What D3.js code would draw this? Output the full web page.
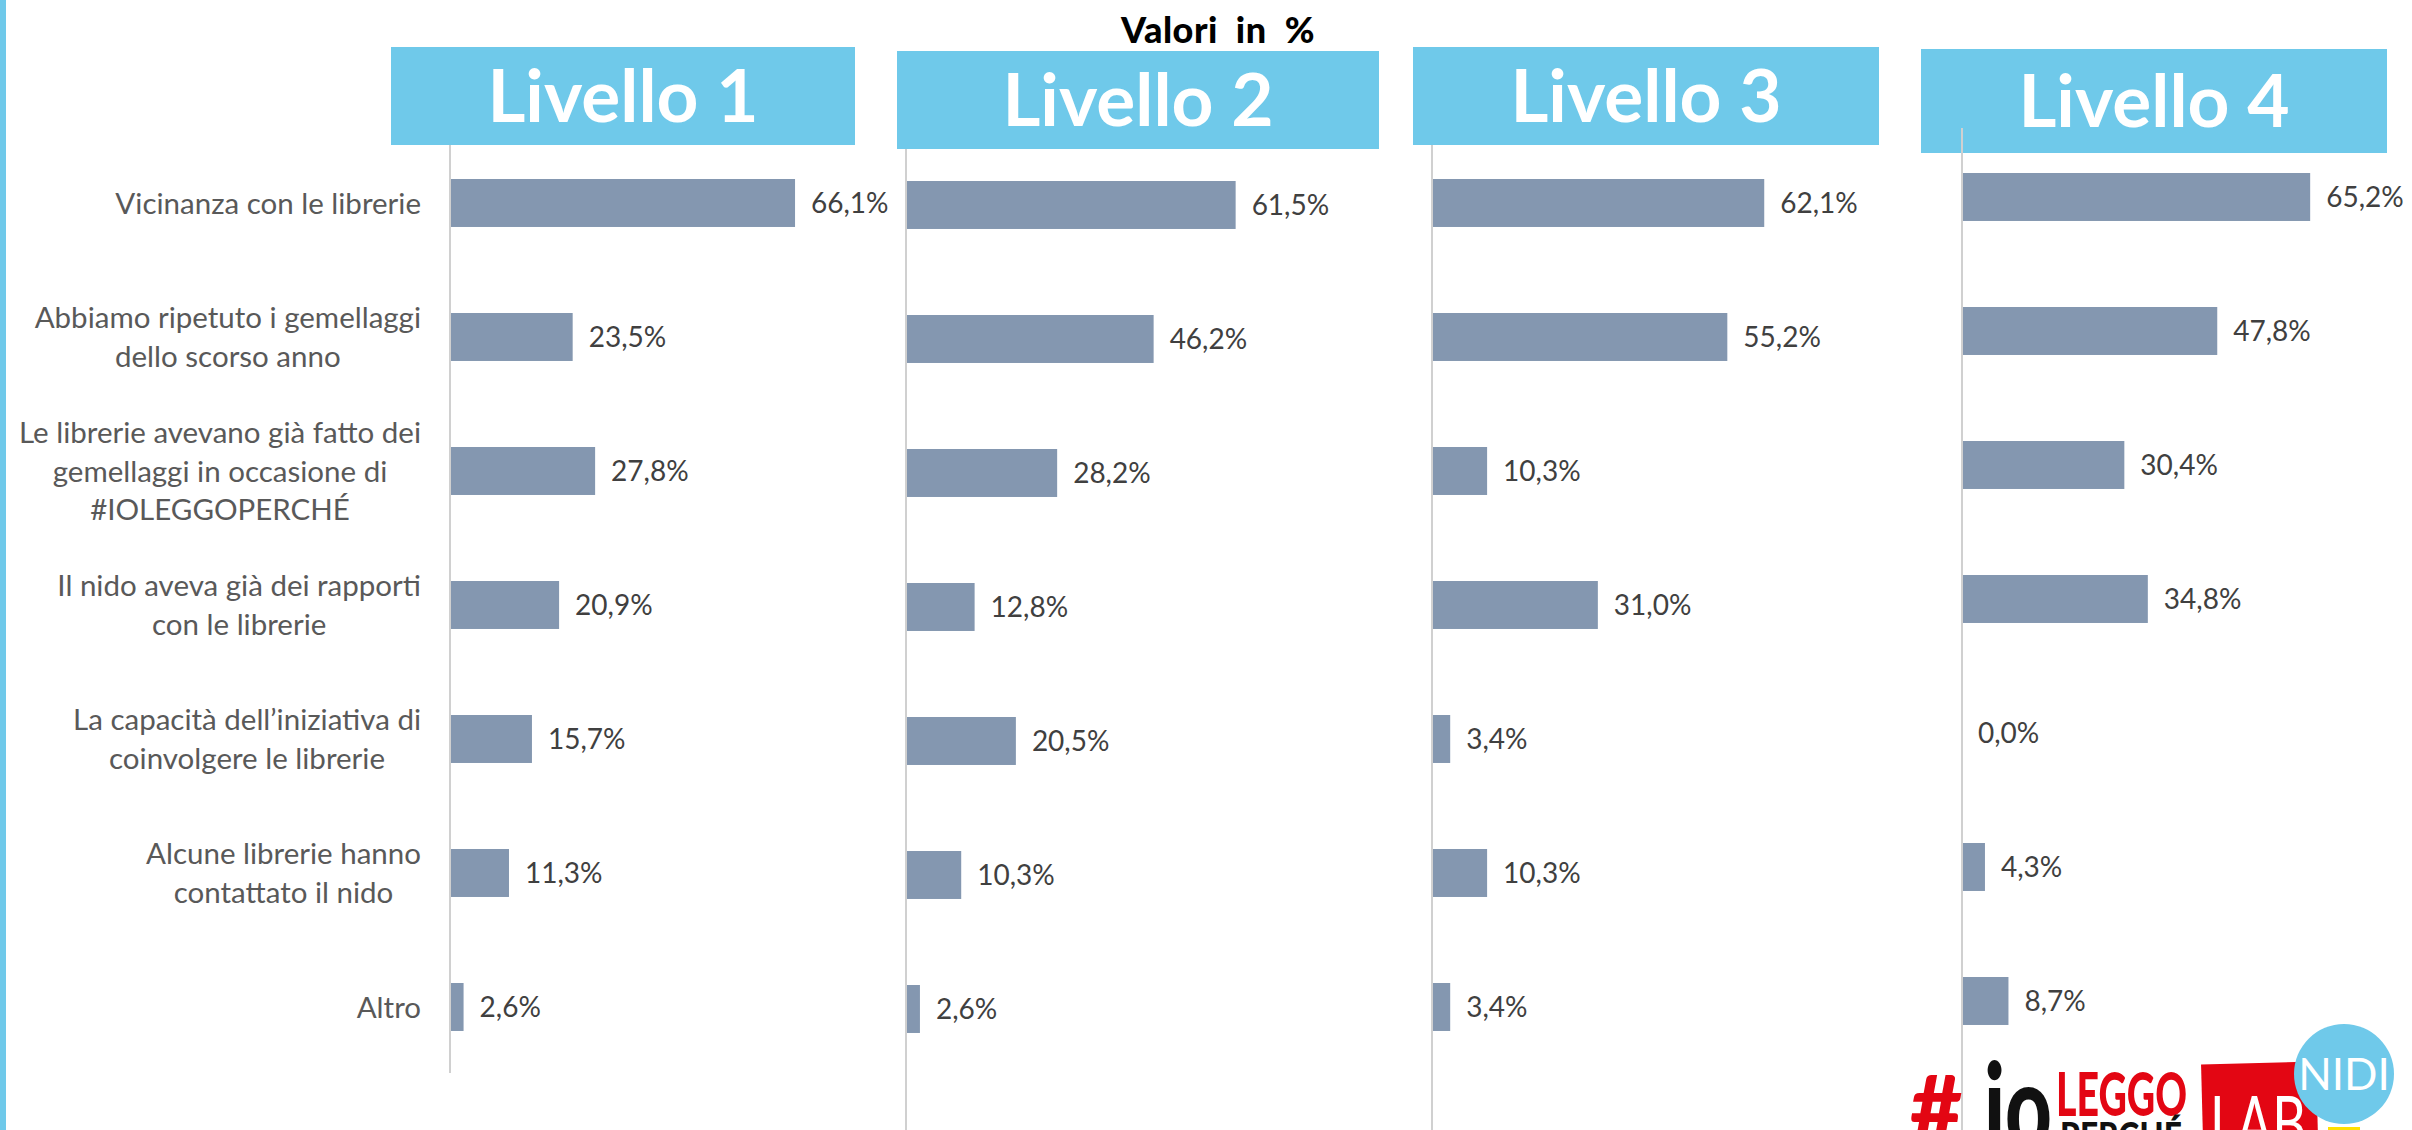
<html>

<head>
    <style>
        body { margin: 0; background: #fff; }
        text { font-family: Lato, "Open Sans", sans-serif; }
    </style>
</head>

<body>
    <div id="chart"></div>
    <script src="https://d3js.org/d3.v7.min.js"></script>
    <script>
        // categories (\n = line break as in the original labels)
        var categories = [
            "Vicinanza con le librerie",
            "Abbiamo ripetuto i gemellaggi\ndello scorso anno",
            "Le librerie avevano già fatto dei\ngemellaggi in occasione di\n#IOLEGGOPERCHÉ",
            "Il nido aveva già dei rapporti\ncon le librerie",
            "La capacità dell’iniziativa di\ncoinvolgere le librerie",
            "Alcune librerie hanno\ncontattato il nido",
            "Altro"
        ];

        var levelNames = ["Livello 1", "Livello 2", "Livello 3", "Livello 4"];

        var livello1 = [66.1, 23.5, 27.8, 20.9, 15.7, 11.3, 2.6];
        var livello2 = [61.5, 46.2, 28.2, 12.8, 20.5, 10.3, 2.6];
        var livello3 = [62.1, 55.2, 10.3, 31.0, 3.4, 10.3, 3.4];
        var livello4 = [65.2, 47.8, 30.4, 34.8, 0.0, 4.3, 8.7];

        var series = [livello1, livello2, livello3, livello4];

        var width = 2412,
            height = 1130,
            step = 134;

        // layout of the four small charts (they sit a little offset from each other)
        var panels = [
            { x0: 450, barTop: 179, w100: 522, box: [391, 47, 855, 145], line: [145, 1073], boxFirst: false },
            { x0: 906, barTop: 181, w100: 536, box: [897, 51, 1379, 149], line: [149, 1130], boxFirst: false },
            { x0: 1432, barTop: 179, w100: 535, box: [1413, 47, 1879, 145], line: [145, 1130], boxFirst: false },
            { x0: 1962, barTop: 173, w100: 534, box: [1921, 49, 2387, 153], line: [128, 1130], boxFirst: true }
        ];

        var blue = "#6FC9EA",
            barColor = "#8497B0",
            fmt = function (v) { return v.toFixed(1).replace(".", ",") + "%"; };

        var svg = d3.select("#chart")
            .append("svg")
            .attr("width", width)
            .attr("height", height);

        // left blue stripe
        svg.append("rect")
            .attr("x", 0).attr("y", 0)
            .attr("width", 6).attr("height", height)
            .attr("fill", blue);

        svg.append("text")
            .attr("x", 1218).attr("y", 43)
            .attr("text-anchor", "middle")
            .attr("font-size", 36)
            .attr("font-weight", 900)
            .attr("word-spacing", 9)
            .attr("letter-spacing", 0.5)
            .attr("fill", "#000")
            .text("Valori in %");

        function drawBox(p, i) {
            var b = p.box;
            var g = svg.append("g");
            g.append("rect")
                .attr("x", b[0]).attr("y", b[1])
                .attr("width", b[2] - b[0]).attr("height", b[3] - b[1])
                .attr("fill", blue);
            g.append("text")
                .attr("x", (b[0] + b[2]) / 2)
                .attr("y", (b[1] + b[3]) / 2)
                .attr("dy", "0.36em")
                .attr("text-anchor", "middle")
                .attr("font-size", 73)
                .attr("font-weight", 700)
                .attr("fill", "#fff")
                .text(levelNames[i]);
        }

        panels.forEach(function (p, i) {
            var data = series[i];

            var y = d3.scaleBand()
                .domain(categories)
                .range([p.barTop - step * 0.321, p.barTop - step * 0.321 + step * categories.length])
                .paddingInner(0.642)
                .paddingOuter(0.321);

            var x = d3.scaleLinear()
                .domain([0, 100])
                .range([p.x0, p.x0 + p.w100]);

            if (p.boxFirst) drawBox(p, i);

            var g = svg.append("g");

            g.append("line")
                .attr("x1", p.x0).attr("x2", p.x0)
                .attr("y1", p.line[0]).attr("y2", p.line[1])
                .attr("stroke", "#D0D0D0")
                .attr("stroke-width", 2);

            g.selectAll("rect.bar")
                .data(data)
                .enter().append("rect")
                .attr("class", "bar")
                .attr("x", x(0) + 1)
                .attr("y", function (d, k) { return y(categories[k]); })
                .attr("width", function (d) { return Math.max(0, x(d) - x(0) - 1); })
                .attr("height", y.bandwidth())
                .attr("fill", barColor);

            g.selectAll("text.val")
                .data(data)
                .enter().append("text")
                .attr("class", "val")
                .attr("x", function (d) { return x(d) + 16; })
                .attr("y", function (d, k) { return y(categories[k]) + y.bandwidth() / 2; })
                .attr("dy", "0.36em")
                .attr("font-size", 28)
                .attr("fill", "#404040")
                .text(fmt);

            if (!p.boxFirst) drawBox(p, i);

            // category labels only on the first chart
            if (i === 0) {
                var right = p.x0 - 29;
                categories.forEach(function (c) {
                    var lines = c.split("\n");
                    var cy = y(c) + y.bandwidth() / 2;
                    var lh = 38.5;
                    var t = svg.append("text")
                        .attr("font-size", 29.5)
                        .attr("fill", "#595959")
                        .attr("text-anchor", "middle");
                    lines.forEach(function (l, j) {
                        t.append("tspan")
                            .attr("y", cy + (j - (lines.length - 1) / 2) * lh)
                            .attr("dy", "0.36em")
                            .text(l);
                    });
                    var maxW = 0;
                    t.selectAll("tspan").each(function () {
                        maxW = Math.max(maxW, this.getComputedTextLength());
                    });
                    t.selectAll("tspan").attr("x", right - maxW / 2);
                });
            }
        });

        // logo in the bottom right corner
        var red = "#E30613";
        var logo = svg.append("g");
        logo.append("text")
            .attr("x", 1910).attr("y", 1140)
            .attr("font-size", 90).attr("font-weight", 900)
            .attr("fill", red)
            .text("#");
        logo.append("text")
            .attr("x", 1984).attr("y", 1150)
            .attr("font-size", 120).attr("font-weight", 900)
            .attr("fill", "#111")
            .attr("textLength", 68).attr("lengthAdjust", "spacingAndGlyphs")
            .text("io");
        logo.append("text")
            .attr("x", 2056).attr("y", 1116)
            .attr("font-size", 60).attr("font-weight", 900)
            .attr("fill", red)
            .attr("textLength", 131).attr("lengthAdjust", "spacingAndGlyphs")
            .text("LEGGO");
        logo.append("text")
            .attr("x", 2060).attr("y", 1150)
            .attr("font-size", 38).attr("font-weight", 900)
            .attr("fill", "#111")
            .attr("textLength", 122).attr("lengthAdjust", "spacingAndGlyphs")
            .text("PERCHÉ");
        logo.append("rect")
            .attr("x", 2202).attr("y", 1063)
            .attr("width", 115).attr("height", 80)
            .attr("transform", "rotate(-1.5 2260 1100)")
            .attr("fill", red);
        logo.append("text")
            .attr("x", 2210).attr("y", 1150)
            .attr("font-size", 76).attr("font-weight", 400)
            .attr("fill", "#fff")
            .attr("textLength", 96).attr("lengthAdjust", "spacingAndGlyphs")
            .text("LAB");
        logo.append("rect")
            .attr("x", 2328).attr("y", 1127)
            .attr("width", 32).attr("height", 6)
            .attr("fill", "#FFE000");
        logo.append("circle")
            .attr("cx", 2344).attr("cy", 1074).attr("r", 50)
            .attr("fill", blue);
        logo.append("text")
            .attr("x", 2344).attr("y", 1074)
            .attr("dy", "0.36em")
            .attr("text-anchor", "middle")
            .attr("font-size", 44).attr("font-weight", 400)
            .attr("fill", "#fff")
            .text("NIDI");
    </script>
</body>

</html>
